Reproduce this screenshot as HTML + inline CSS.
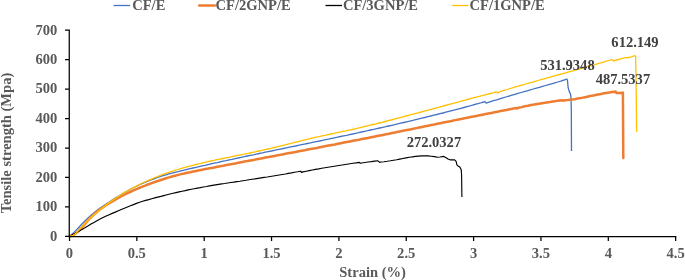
<!DOCTYPE html>
<html><head><meta charset="utf-8"><title>Tensile strength vs Strain</title>
<style>html,body{margin:0;padding:0;background:#fff}svg{display:block}</style></head>
<body>
<svg width="685" height="280" viewBox="0 0 685 280">
<rect width="685" height="280" fill="#fff"/>
<path d="M69.7,236.2 L72.7,233.6 L75.7,230.6 L78.7,227.5 L81.7,224.3 L84.7,221.2 L87.8,218.2 L90.8,215.4 L93.8,212.9 L96.8,210.5 L99.8,208.3 L102.8,206.2 L105.8,204.2 L108.8,202.2 L111.8,200.3 L114.8,198.4 L117.9,196.5 L120.9,194.7 L123.9,192.9 L126.9,191.2 L129.9,189.5 L132.9,188.0 L135.9,186.5 L138.9,185.0 L141.9,183.6 L144.9,182.3 L147.9,181.1 L151.0,179.9 L154.0,178.8 L157.0,177.7 L160.0,176.7 L163.0,175.7 L166.0,174.8 L169.0,173.9 L172.0,173.1 L175.0,172.3 L178.0,171.6 L181.0,170.8 L184.1,170.1 L187.1,169.4 L190.1,168.7 L193.1,168.0 L196.1,167.3 L199.1,166.6 L202.1,165.9 L205.1,165.3 L208.1,164.6 L211.1,163.9 L214.2,163.2 L217.2,162.6 L220.2,161.9 L223.2,161.2 L226.2,160.6 L229.2,159.9 L232.2,159.3 L235.2,158.6 L238.2,158.0 L241.2,157.3 L244.2,156.7 L247.3,156.0 L250.3,155.4 L253.3,154.8 L256.3,154.1 L259.3,153.5 L262.3,152.9 L265.3,152.2 L268.3,151.6 L271.3,151.0 L274.3,150.3 L277.4,149.7 L280.4,149.1 L283.4,148.5 L286.4,147.8 L289.4,147.2 L292.4,146.6 L295.4,146.0 L298.4,145.3 L301.4,144.7 L304.4,144.1 L307.4,143.5 L310.5,142.9 L313.5,142.2 L316.5,141.6 L319.5,141.0 L322.5,140.3 L325.5,139.7 L328.5,139.1 L331.5,138.4 L334.5,137.8 L337.5,137.2 L340.5,136.5 L343.6,135.9 L346.6,135.3 L349.6,134.6 L352.6,134.0 L355.6,133.3 L358.6,132.7 L361.6,132.0 L364.6,131.3 L367.6,130.7 L370.6,130.0 L373.7,129.4 L376.7,128.7 L379.7,128.0 L382.7,127.3 L385.7,126.7 L388.7,126.0 L391.7,125.3 L394.7,124.6 L397.7,123.9 L400.7,123.2 L403.7,122.5 L406.8,121.8 L409.8,121.1 L412.8,120.4 L415.8,119.6 L418.8,118.9 L421.8,118.2 L424.8,117.5 L427.8,116.7 L430.8,116.0 L433.8,115.2 L436.8,114.5 L439.9,113.7 L442.9,113.0 L445.9,112.2 L448.9,111.4 L451.9,110.6 L454.9,109.9 L457.9,109.1 L460.9,108.3 L463.9,107.5 L466.9,106.7 L470.0,105.9 L473.0,105.0 L476.0,104.2 L479.0,103.4 L482.0,102.5 L485.0,101.7 L486.2,103.2 L487.5,102.6 L490.6,101.6 L493.6,100.7 L496.7,99.8 L499.7,98.8 L502.8,97.9 L505.8,97.0 L508.9,96.1 L511.9,95.2 L515.0,94.3 L518.0,93.4 L521.1,92.5 L524.1,91.6 L527.2,90.8 L530.3,89.9 L533.3,89.0 L536.4,88.1 L539.4,87.3 L542.5,86.4 L545.5,85.5 L548.6,84.6 L551.6,83.8 L554.7,82.9 L557.7,82.0 L560.8,81.1 L563.8,80.1 L566.9,79.1 L567.5,80.6 L568.1,87.5 L569.4,91.9 L570.6,94.4 L571.0,97.5 L571.3,110.0 L571.5,150.9" fill="none" stroke="#4472C4" stroke-width="1.3" stroke-linejoin="round"/>
<path d="M69.7,236.2 L72.7,235.5 L75.7,233.6 L78.7,230.9 L81.8,227.6 L84.8,224.1 L87.8,220.7 L90.8,217.5 L93.8,214.6 L96.8,212.0 L99.8,209.5 L102.8,207.4 L105.9,205.3 L108.9,203.4 L111.9,201.6 L114.9,199.9 L117.9,198.2 L120.9,196.5 L123.9,195.0 L126.9,193.4 L130.0,192.0 L133.0,190.6 L136.0,189.3 L139.0,188.0 L142.0,186.8 L145.0,185.7 L148.0,184.5 L151.0,183.3 L154.1,182.2 L157.1,181.2 L160.1,180.2 L163.1,179.2 L166.1,178.3 L169.1,177.4 L172.1,176.5 L175.1,175.7 L178.2,174.9 L181.2,174.1 L184.2,173.5 L187.2,172.8 L190.2,172.2 L193.2,171.5 L196.2,170.9 L199.3,170.3 L202.3,169.7 L205.3,169.1 L208.3,168.6 L211.3,168.0 L214.3,167.4 L217.3,166.8 L220.3,166.2 L223.4,165.7 L226.4,165.1 L229.4,164.5 L232.4,163.9 L235.4,163.4 L238.4,162.8 L241.4,162.2 L244.4,161.6 L247.5,161.1 L250.5,160.5 L253.5,159.9 L256.5,159.3 L259.5,158.8 L262.5,158.2 L265.5,157.6 L268.5,157.1 L271.6,156.5 L274.6,155.9 L277.6,155.3 L280.6,154.8 L283.6,154.2 L286.6,153.6 L289.6,153.0 L292.7,152.5 L295.7,151.9 L298.7,151.3 L301.7,150.7 L304.7,150.2 L307.7,149.6 L310.7,149.0 L313.7,148.4 L316.8,147.9 L319.8,147.3 L322.8,146.7 L325.8,146.1 L328.8,145.5 L331.8,144.9 L334.8,144.4 L337.8,143.8 L340.9,143.2 L343.9,142.6 L346.9,142.0 L349.9,141.4 L352.9,140.8 L355.9,140.2 L358.9,139.7 L361.9,139.1 L365.0,138.5 L368.0,137.9 L371.0,137.3 L374.0,136.7 L377.0,136.1 L380.0,135.5 L383.0,134.9 L386.0,134.3 L389.1,133.7 L392.1,133.0 L395.1,132.4 L398.1,131.8 L401.1,131.2 L404.1,130.6 L407.1,130.0 L410.2,129.4 L413.2,128.8 L416.2,128.1 L419.2,127.5 L422.2,126.9 L425.2,126.3 L428.2,125.7 L431.2,125.1 L434.3,124.5 L437.3,123.8 L440.3,123.2 L443.3,122.6 L446.3,122.0 L449.3,121.4 L452.3,120.8 L455.3,120.1 L458.4,119.5 L461.4,118.9 L464.4,118.3 L467.4,117.7 L470.4,117.1 L473.4,116.5 L476.4,115.9 L479.4,115.3 L482.5,114.7 L485.5,114.1 L488.5,113.5 L491.5,112.9 L494.5,112.3 L497.5,111.7 L500.5,111.1 L503.5,110.5 L506.6,109.9 L509.6,109.3 L512.6,108.7 L515.6,108.1 L517.0,108.5 L518.5,107.8 L521.6,107.1 L524.8,106.3 L527.9,105.7 L531.1,105.0 L534.2,104.5 L537.4,103.9 L540.5,103.4 L543.6,102.9 L546.8,102.4 L549.9,102.0 L553.1,101.5 L556.2,101.1 L559.4,100.6 L562.5,100.2 L563.7,100.7 L565.0,100.3 L568.2,100.0 L571.3,99.6 L574.5,99.2 L577.6,98.6 L580.8,98.1 L584.0,97.4 L587.1,96.8 L590.3,96.1 L593.5,95.5 L596.6,94.8 L599.8,94.2 L603.0,93.6 L606.1,93.0 L609.3,92.5 L612.4,92.1 L615.6,91.7 L616.5,92.9 L622.9,92.7 L623.0,110.0 L623.3,158.0" fill="none" stroke="#ED7D31" stroke-width="2.5" stroke-linejoin="miter" stroke-linecap="round"/>
<path d="M69.7,236.2 L72.7,234.6 L75.8,232.9 L78.8,231.2 L81.9,229.4 L84.9,227.7 L87.9,225.9 L91.0,224.1 L94.0,222.4 L97.0,220.7 L100.1,219.1 L103.1,217.5 L106.2,216.1 L109.2,214.7 L112.2,213.4 L115.3,212.1 L118.3,210.8 L121.3,209.5 L124.4,208.2 L127.4,207.0 L130.5,205.8 L133.5,204.6 L136.5,203.4 L139.6,202.3 L142.6,201.3 L145.7,200.4 L148.7,199.6 L151.7,198.7 L154.8,197.9 L157.8,197.1 L160.8,196.4 L163.9,195.6 L166.9,194.8 L170.0,194.0 L173.0,193.3 L176.0,192.6 L179.1,191.9 L182.1,191.2 L185.2,190.6 L188.2,189.9 L191.2,189.3 L194.3,188.7 L197.3,188.1 L200.3,187.6 L203.4,187.0 L206.4,186.5 L209.5,185.9 L212.5,185.4 L215.5,184.9 L218.6,184.4 L221.6,183.9 L224.6,183.5 L227.7,183.0 L230.7,182.5 L233.8,182.1 L236.8,181.6 L239.8,181.2 L242.9,180.7 L245.9,180.3 L249.0,179.8 L252.0,179.3 L255.0,178.9 L258.1,178.4 L261.1,177.9 L264.1,177.4 L267.2,177.0 L270.2,176.5 L273.3,176.0 L276.3,175.5 L279.3,175.0 L282.4,174.5 L285.4,174.0 L288.4,173.4 L291.5,172.9 L294.5,172.3 L297.6,171.8 L300.6,171.2 L301.5,172.4 L303.0,171.9 L306.1,171.2 L309.3,170.6 L312.4,170.0 L315.5,169.4 L318.6,168.9 L321.8,168.3 L324.9,167.8 L328.0,167.3 L331.1,166.8 L334.3,166.3 L337.4,165.8 L340.5,165.3 L343.7,164.8 L346.8,164.3 L349.9,163.8 L353.0,163.3 L356.2,162.9 L359.3,162.4 L360.4,163.3 L361.5,163.0 L364.8,162.5 L368.1,162.0 L371.4,161.6 L374.7,161.1 L378.0,160.8 L379.7,162.4 L381.0,162.0 L384.1,161.7 L387.3,161.3 L390.4,160.8 L393.6,160.2 L396.7,159.7 L399.8,159.1 L403.0,158.5 L406.1,157.9 L409.2,157.3 L412.4,156.9 L415.5,156.4 L418.7,156.1 L421.8,155.9 L424.9,155.9 L428.1,155.9 L431.2,156.2 L434.4,156.6 L437.5,157.2 L440.0,157.0 L443.8,156.4 L446.2,157.7 L448.0,159.0 L450.0,159.8 L454.4,159.8 L455.5,160.6 L456.2,161.7 L456.9,164.8 L458.5,166.3 L460.0,167.3 L461.2,169.8 L461.6,175.0 L461.9,197.1" fill="none" stroke="#000" stroke-width="1.15" stroke-linejoin="round"/>
<path d="M69.7,236.2 L72.7,235.7 L75.7,233.6 L78.7,230.4 L81.7,227.0 L84.7,223.7 L87.7,220.6 L90.7,217.7 L93.7,215.0 L96.7,212.4 L99.7,209.9 L102.7,207.5 L105.7,205.2 L108.8,202.9 L111.8,200.8 L114.8,198.7 L117.8,196.7 L120.8,194.8 L123.8,192.9 L126.8,191.2 L129.8,189.5 L132.8,187.9 L135.8,186.4 L138.8,184.9 L141.8,183.5 L144.8,182.0 L147.8,180.6 L150.8,179.3 L153.8,178.0 L156.8,176.8 L159.8,175.6 L162.8,174.4 L165.8,173.3 L168.8,172.3 L171.8,171.3 L174.8,170.4 L177.8,169.5 L180.8,168.6 L183.8,167.7 L186.9,166.9 L189.9,166.1 L192.9,165.3 L195.9,164.5 L198.9,163.8 L201.9,163.1 L204.9,162.4 L207.9,161.7 L210.9,161.0 L213.9,160.4 L216.9,159.7 L219.9,159.1 L222.9,158.5 L225.9,157.9 L228.9,157.3 L231.9,156.6 L234.9,156.0 L237.9,155.4 L240.9,154.8 L243.9,154.2 L246.9,153.6 L249.9,153.0 L252.9,152.3 L255.9,151.7 L258.9,151.0 L261.9,150.4 L265.0,149.7 L268.0,149.0 L271.0,148.3 L274.0,147.5 L277.0,146.8 L280.0,146.1 L283.0,145.3 L286.0,144.6 L289.0,143.8 L292.0,143.1 L295.0,142.3 L298.0,141.6 L301.0,140.8 L304.0,140.1 L307.0,139.4 L310.0,138.6 L313.0,137.9 L316.0,137.2 L319.0,136.6 L322.0,135.9 L325.0,135.3 L328.0,134.6 L331.0,134.0 L334.0,133.4 L337.0,132.7 L340.0,132.1 L343.1,131.4 L346.1,130.8 L349.1,130.1 L352.1,129.5 L355.1,128.8 L358.1,128.1 L361.1,127.4 L364.1,126.7 L367.1,126.0 L370.1,125.2 L373.1,124.5 L376.1,123.8 L379.1,123.0 L382.1,122.3 L385.1,121.5 L388.1,120.7 L391.1,120.0 L394.1,119.2 L397.1,118.4 L400.1,117.6 L403.1,116.8 L406.1,116.0 L409.1,115.2 L412.1,114.4 L415.1,113.6 L418.1,112.8 L421.2,112.0 L424.2,111.2 L427.2,110.4 L430.2,109.6 L433.2,108.8 L436.2,108.0 L439.2,107.1 L442.2,106.3 L445.2,105.5 L448.2,104.7 L451.2,103.9 L454.2,103.1 L457.2,102.3 L460.2,101.4 L463.2,100.6 L466.2,99.8 L469.2,99.0 L472.2,98.2 L475.2,97.4 L478.2,96.7 L481.2,95.9 L484.2,95.1 L487.2,94.3 L490.2,93.5 L493.2,92.8 L496.2,92.0 L498.1,92.9 L500.0,91.7 L501.0,91.3 L504.1,90.4 L507.2,89.5 L510.2,88.5 L513.3,87.6 L516.4,86.7 L519.5,85.8 L522.6,84.9 L525.6,84.0 L528.7,83.1 L531.8,82.3 L534.9,81.4 L538.0,80.5 L541.0,79.7 L544.1,78.8 L547.2,77.9 L550.3,77.1 L553.4,76.2 L556.5,75.3 L559.5,74.5 L562.6,73.6 L565.7,72.8 L568.8,71.9 L571.9,71.1 L574.9,70.2 L578.0,69.3 L581.1,68.5 L584.2,67.6 L587.3,66.7 L590.3,65.9 L593.4,65.0 L596.5,64.1 L599.6,63.2 L602.7,62.3 L605.7,61.4 L608.8,60.5 L611.9,59.6 L613.8,61.1 L615.6,60.2 L616.5,60.0 L620.8,58.8 L625.0,57.6 L626.9,57.5 L628.0,57.9 L629.0,57.4 L632.0,56.6 L635.0,55.7 L635.6,56.7 L636.0,75.0 L636.3,100.0 L636.6,132.0" fill="none" stroke="#FFC000" stroke-width="1.3" stroke-linejoin="round"/>
<path d="M69.25,29.6 V236.5 M68.6,236.5 H676.4 M65,236.40 H69.25 M65,206.94 H69.25 M65,177.48 H69.25 M65,148.02 H69.25 M65,118.56 H69.25 M65,89.10 H69.25 M65,59.64 H69.25 M65,30.18 H69.25 M69.50,236.5 V241.1 M136.85,236.5 V241.1 M204.20,236.5 V241.1 M271.55,236.5 V241.1 M338.90,236.5 V241.1 M406.25,236.5 V241.1 M473.60,236.5 V241.1 M540.95,236.5 V241.1 M608.30,236.5 V241.1 M675.65,236.5 V241.1" fill="none" stroke="#000" stroke-width="1.25"/>
<g style="font-family:'Liberation Serif',serif;font-weight:bold;font-size:14px;fill:#595959">
<text transform="translate(57.3,240.7) scale(1.04,1)" text-anchor="end">0</text>
<text transform="translate(57.3,211.2) scale(1.04,1)" text-anchor="end">100</text>
<text transform="translate(57.3,181.8) scale(1.04,1)" text-anchor="end">200</text>
<text transform="translate(57.3,152.3) scale(1.04,1)" text-anchor="end">300</text>
<text transform="translate(57.3,122.9) scale(1.04,1)" text-anchor="end">400</text>
<text transform="translate(57.3,93.4) scale(1.04,1)" text-anchor="end">500</text>
<text transform="translate(57.3,63.9) scale(1.04,1)" text-anchor="end">600</text>
<text transform="translate(57.3,34.5) scale(1.04,1)" text-anchor="end">700</text>
<text transform="translate(69.5,257.5) scale(1.04,1)" text-anchor="middle">0</text>
<text transform="translate(136.8,257.5) scale(1.04,1)" text-anchor="middle">0.5</text>
<text transform="translate(204.2,257.5) scale(1.04,1)" text-anchor="middle">1</text>
<text transform="translate(271.5,257.5) scale(1.04,1)" text-anchor="middle">1.5</text>
<text transform="translate(338.9,257.5) scale(1.04,1)" text-anchor="middle">2</text>
<text transform="translate(406.2,257.5) scale(1.04,1)" text-anchor="middle">2.5</text>
<text transform="translate(473.6,257.5) scale(1.04,1)" text-anchor="middle">3</text>
<text transform="translate(540.9,257.5) scale(1.04,1)" text-anchor="middle">3.5</text>
<text transform="translate(608.3,257.5) scale(1.04,1)" text-anchor="middle">4</text>
<text transform="translate(675.6,257.5) scale(1.04,1)" text-anchor="middle">4.5</text>
<text transform="translate(372.6,276.7) scale(1.04,1)" text-anchor="middle">Strain (%)</text>
<text transform="translate(10.6,143.0) rotate(-90) scale(1.04,1)" text-anchor="middle">Tensile strength (Mpa)</text>
<g fill="#404040">
<text transform="translate(433.9,146.6) scale(1.04,1)" text-anchor="middle">272.0327</text>
<text transform="translate(567.4,70.1) scale(1.04,1)" text-anchor="middle">531.9348</text>
<text transform="translate(622.9,83.9) scale(1.04,1)" text-anchor="middle">487.5337</text>
<text transform="translate(635.0,46.7) scale(1.04,1)" text-anchor="middle">612.149</text>
</g>
<path d="M113.6,5.5 H130.2" stroke="#4472C4" stroke-width="1.3" stroke-linecap="butt"/>
<text transform="translate(132.2,9.8) scale(1.04,1)">CF/E</text>
<path d="M199.2,5.5 H214.9" stroke="#ED7D31" stroke-width="2.5" stroke-linecap="round"/>
<text transform="translate(215.6,9.8) scale(1.04,1)">CF/2GNP/E</text>
<path d="M325.5,5.5 H342" stroke="#000" stroke-width="1.3" stroke-linecap="butt"/>
<text transform="translate(342.9,9.8) scale(1.04,1)">CF/3GNP/E</text>
<path d="M452.2,5.5 H468.4" stroke="#FFC000" stroke-width="1.3" stroke-linecap="butt"/>
<text transform="translate(469.5,9.8) scale(1.04,1)">CF/1GNP/E</text>
</g>
</svg>
</body></html>
